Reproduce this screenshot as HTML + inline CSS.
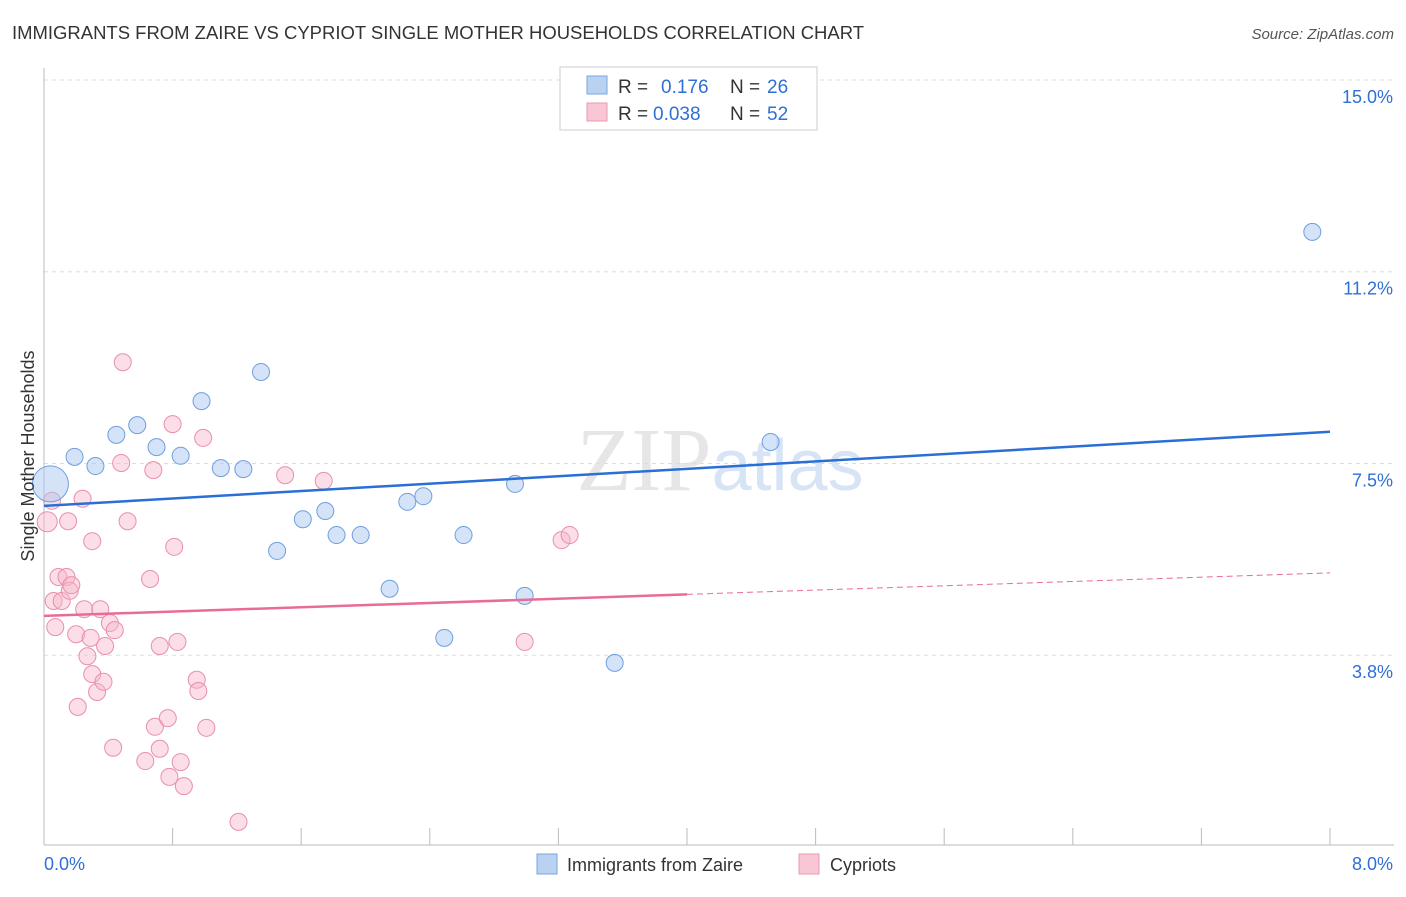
<!DOCTYPE html>
<html><head><meta charset="utf-8"><style>
body{margin:0;background:#fff;font-family:"Liberation Sans",sans-serif;}
</style></head><body>
<svg id="c" width="1406" height="892" xmlns="http://www.w3.org/2000/svg">
<text x="12" y="39" font-size="18" fill="#333" textLength="852" lengthAdjust="spacingAndGlyphs">IMMIGRANTS FROM ZAIRE VS CYPRIOT SINGLE MOTHER HOUSEHOLDS CORRELATION CHART</text>
<text x="1394" y="39" font-size="15" fill="#555" font-style="italic" text-anchor="end">Source: ZipAtlas.com</text>
<text x="720" y="490" font-size="90" fill="#e6e6e6" text-anchor="middle" font-family="Liberation Serif,serif">ZIP<tspan fill="#d6e4f5" font-family="Liberation Sans,sans-serif" font-size="72">atlas</tspan></text>
<g id="grid"></g>
<g id="axes"></g>
<g id="marks"></g>
<text transform="translate(34,456) rotate(-90)" font-size="18" fill="#333" text-anchor="middle">Single Mother Households</text>
<g>
<rect x="560" y="67" width="257" height="63" fill="#fff" stroke="#ccc"/>
<rect x="587" y="76" width="20" height="18" fill="#b9d2f2" stroke="#7aa6e0"/>
<rect x="587" y="103" width="20" height="18" fill="#f9c6d5" stroke="#ea9ab2"/>
<text x="618" y="93" font-size="19" fill="#333">R = </text><text x="661" y="93" font-size="19" fill="#2f6fd6">0.176</text>
<text x="730" y="93" font-size="19" fill="#333">N = </text><text x="767" y="93" font-size="19" fill="#2f6fd6">26</text>
<text x="618" y="120" font-size="19" fill="#333">R = </text><text x="653" y="120" font-size="19" fill="#2f6fd6">0.038</text>
<text x="730" y="120" font-size="19" fill="#333">N = </text><text x="767" y="120" font-size="19" fill="#2f6fd6">52</text>
</g>
<g>
<rect x="537" y="854" width="20" height="20" fill="#b9d2f2" stroke="#7aa6e0"/>
<text x="567" y="871" font-size="18" fill="#333">Immigrants from Zaire</text>
<rect x="799" y="854" width="20" height="20" fill="#f9c6d5" stroke="#ea9ab2"/>
<text x="830" y="871" font-size="18" fill="#333">Cypriots</text>
</g>
</svg>
<script>
const xTicks=[0,0.8,1.6,2.4,3.2,4.0,4.8,5.6,6.4,7.2,8.0];
const yTicks=[15,11.25,7.5,3.75];
const yTickLabels=["15.0%","11.2%","7.5%","3.8%"];
const zaireX=[0.04,0.19,0.32,0.45,0.58,0.70,0.85,0.98,1.10,1.24,1.35,1.45,1.61,1.75,1.82,1.97,2.15,2.26,2.36,2.49,2.61,2.93,2.99,3.55,4.52,7.89];
const zaireY=[7.10,7.63,7.45,8.06,8.25,7.82,7.65,8.72,7.41,7.39,9.29,5.79,6.41,6.57,6.10,6.10,5.05,6.75,6.86,4.09,6.10,7.10,4.91,3.60,7.92,12.03];
const cypX=[0.02,0.05,0.06,0.07,0.09,0.11,0.14,0.15,0.16,0.17,0.20,0.21,0.24,0.25,0.27,0.29,0.30,0.30,0.33,0.35,0.37,0.38,0.41,0.43,0.44,0.48,0.49,0.52,0.63,0.66,0.68,0.69,0.72,0.72,0.77,0.78,0.80,0.81,0.83,0.85,0.87,0.95,0.96,0.99,1.01,1.21,1.50,1.74,2.99,3.22,3.27];
const cypY=[6.36,6.77,4.81,4.30,5.28,4.81,5.28,6.37,5.01,5.12,4.16,2.74,6.81,4.65,3.73,4.09,5.98,3.38,3.03,4.65,3.23,3.93,4.38,1.94,4.24,7.51,9.48,6.37,1.68,5.24,7.37,2.35,3.93,1.92,2.52,1.37,8.27,5.87,4.01,1.66,1.19,3.27,3.05,8.00,2.33,0.49,7.27,7.16,4.01,6.00,6.10];
const zaireTrend=[6.67,8.12];
const cypTrend=[4.52,5.36];
const X=v=>44+v/8*1286;
const Y=v=>80+(15-v)*51.13;
const NS="http://www.w3.org/2000/svg";
function mk(tag,attrs,parent){const e=document.createElementNS(NS,tag);for(const k in attrs)e.setAttribute(k,attrs[k]);parent.appendChild(e);return e;}
const grid=document.getElementById('grid'),axes=document.getElementById('axes'),marks=document.getElementById('marks');
yTicks.forEach((t,i)=>{
 const l=mk('line',{x1:44,x2:1394,y1:Y(t),y2:Y(t),stroke:'#ddd','stroke-dasharray':'4,4'},grid);
 
 
 const tx=mk('text',{x:1393,y:Y(t)+23,'font-size':18,fill:'#2f6fd6','text-anchor':'end'},axes);
 tx.textContent=yTickLabels[i];
 
 
});
let a=mk('line',{x1:44,x2:44,y1:68,y2:845,stroke:'#bbb'},axes);


a=mk('line',{x1:44,x2:1394,y1:845,y2:845,stroke:'#bbb'},axes);


xTicks.forEach(t=>{const l=mk('line',{x1:X(t),x2:X(t),y1:828,y2:845,stroke:'#bbb'},axes);
 
 });
let t0=mk('text',{x:44,y:870,'font-size':18,fill:'#2f6fd6'},axes);t0.textContent='0.0%';


let t1=mk('text',{x:1393,y:870,'font-size':18,fill:'#2f6fd6','text-anchor':'end'},axes);t1.textContent='8.0%';


cypX.forEach((x,i)=>{const c=mk('circle',{cx:X(x),cy:Y(cypY[i]),r:i===0?10:8.5,fill:'rgba(247,182,202,0.45)',stroke:'#e98fab','stroke-width':1},marks);
 
 });
zaireX.forEach((x,i)=>{const c=mk('circle',{cx:X(x),cy:Y(zaireY[i]),r:i===0?18:8.5,fill:'rgba(170,200,240,0.5)',stroke:'#6e9fdf','stroke-width':1},marks);
 
 });
let tl=mk('line',{x1:X(0),y1:Y(zaireTrend[0]),x2:X(8),y2:Y(zaireTrend[1]),stroke:'#2a6fd6','stroke-width':2.5},marks);


const cy=x=>cypTrend[0]+(cypTrend[1]-cypTrend[0])*x/8;
tl=mk('line',{x1:X(0),y1:Y(cy(0)),x2:X(4),y2:Y(cy(4)),stroke:'#e86c96','stroke-width':2.5},marks);


tl=mk('line',{x1:X(4),y1:Y(cy(4)),x2:X(8),y2:Y(cy(8)),stroke:'#e86c96','stroke-width':1,'stroke-dasharray':'6,4'},marks);


</script>
</body></html>
